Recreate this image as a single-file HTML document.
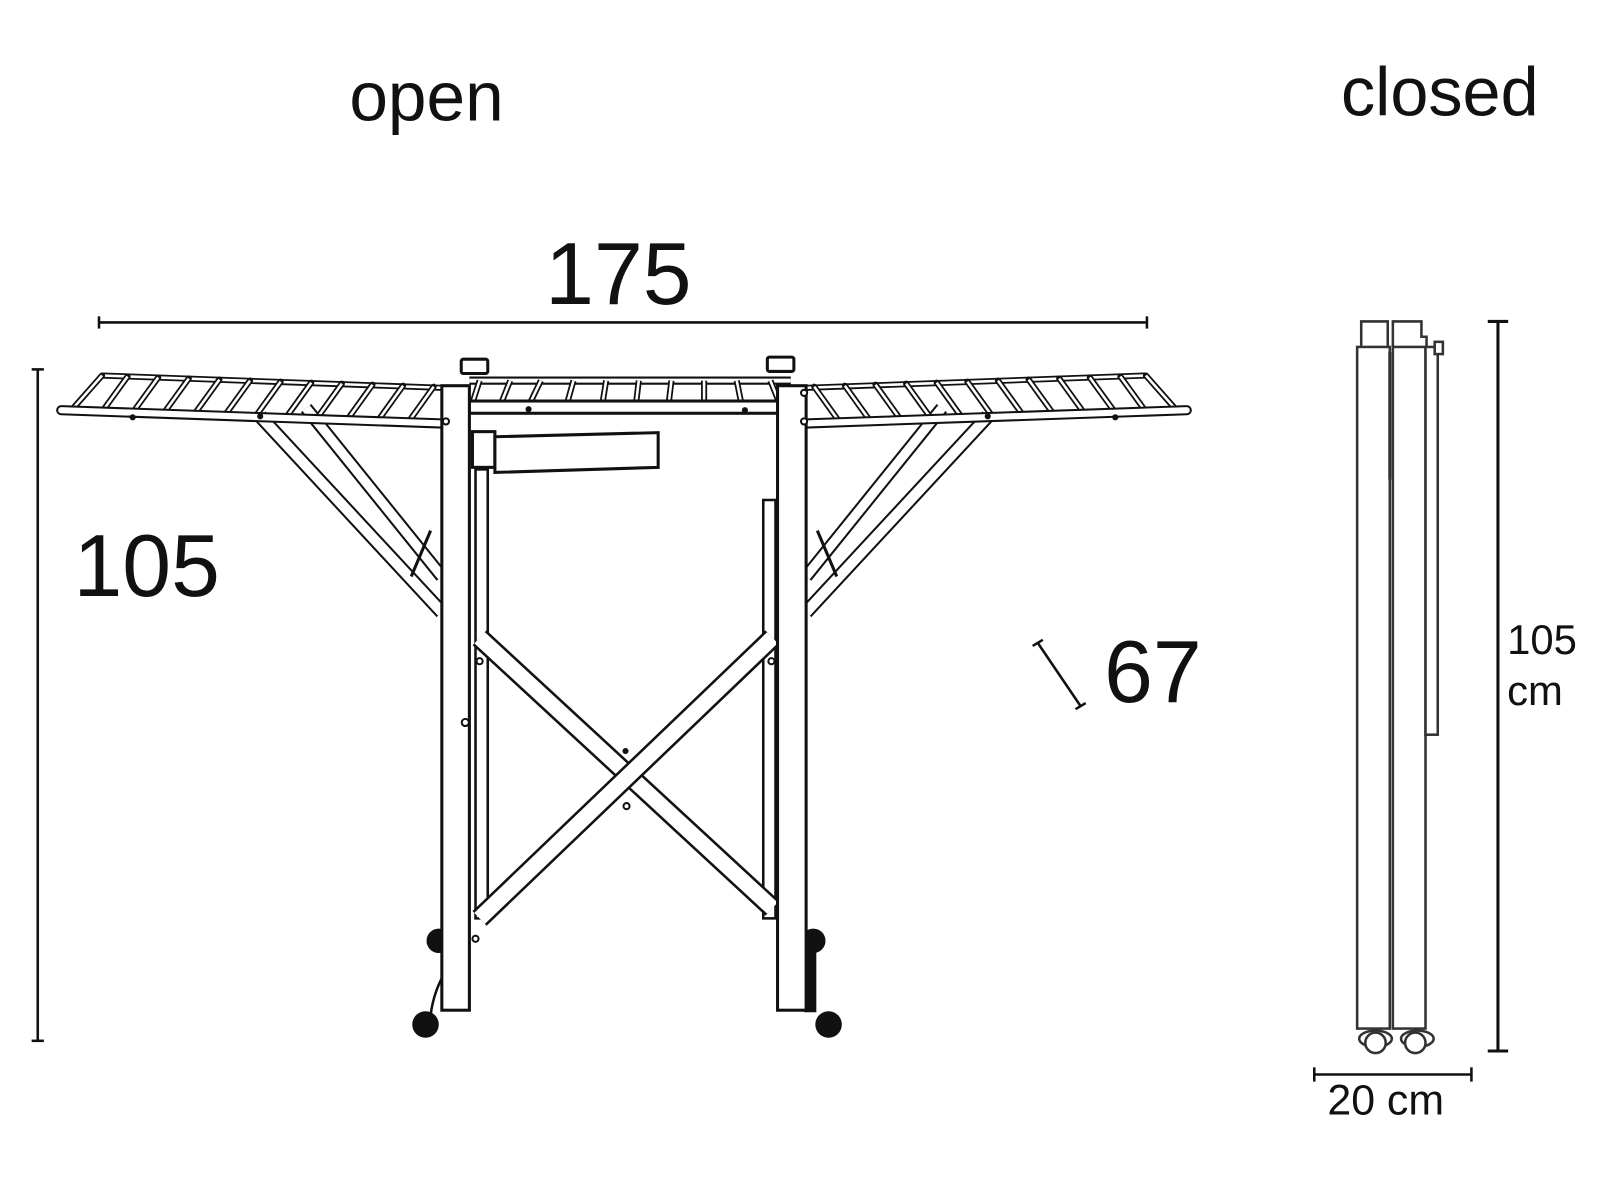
<!DOCTYPE html>
<html><head><meta charset="utf-8"><style>
html,body{margin:0;padding:0;background:#fff;width:1600px;height:1200px;overflow:hidden}
svg{display:block}
text{font-family:"Liberation Sans",sans-serif;fill:#111}
</style></head><body>
<svg width="1600" height="1200" viewBox="0 0 1568 1176" xmlns="http://www.w3.org/2000/svg">
<defs>
<g id="wing">
  <line x1="255" y1="408" x2="433" y2="600" stroke="#111" stroke-width="14"/>
  <line x1="255" y1="408" x2="433" y2="600" stroke="#fff" stroke-width="10"/>
  <line x1="300" y1="400" x2="433" y2="565" stroke="#111" stroke-width="13"/>
  <line x1="300" y1="400" x2="433" y2="565" stroke="#fff" stroke-width="9"/>
  <line x1="403" y1="565" x2="422" y2="520" stroke="#111" stroke-width="3"/>
  <line x1="100" y1="368" x2="432" y2="380" stroke="#111" stroke-width="6"/>
  <line x1="100" y1="368" x2="432" y2="380" stroke="#fff" stroke-width="2.5"/>
  <g stroke="#111" stroke-width="6" stroke-linecap="round">
    <line x1="70" y1="402" x2="100" y2="368"/>
    <line x1="100" y1="403.5" x2="125" y2="369"/><line x1="130" y1="404.5" x2="155" y2="370"/>
    <line x1="160" y1="405.6" x2="185" y2="371"/><line x1="190" y1="406.6" x2="215" y2="372"/>
    <line x1="220" y1="407.6" x2="245" y2="373"/><line x1="250" y1="408.7" x2="275" y2="374"/>
    <line x1="280" y1="409.7" x2="305" y2="375"/><line x1="310" y1="410.8" x2="335" y2="376"/>
    <line x1="340" y1="411.8" x2="365" y2="377"/><line x1="370" y1="412.8" x2="395" y2="378"/>
    <line x1="400" y1="413.9" x2="425" y2="379"/>
  </g>
  <g stroke="#fff" stroke-width="2.5">
    <line x1="70" y1="402" x2="100" y2="368"/>
    <line x1="100" y1="403.5" x2="125" y2="369"/><line x1="130" y1="404.5" x2="155" y2="370"/>
    <line x1="160" y1="405.6" x2="185" y2="371"/><line x1="190" y1="406.6" x2="215" y2="372"/>
    <line x1="220" y1="407.6" x2="245" y2="373"/><line x1="250" y1="408.7" x2="275" y2="374"/>
    <line x1="280" y1="409.7" x2="305" y2="375"/><line x1="310" y1="410.8" x2="335" y2="376"/>
    <line x1="340" y1="411.8" x2="365" y2="377"/><line x1="370" y1="412.8" x2="395" y2="378"/>
    <line x1="400" y1="413.9" x2="425" y2="379"/>
  </g>
  <line x1="60" y1="402" x2="433" y2="415" stroke="#111" stroke-width="10" stroke-linecap="round"/>
  <line x1="60" y1="402" x2="433" y2="415" stroke="#fff" stroke-width="6" stroke-linecap="round"/>
  <circle cx="130" cy="409" r="3" fill="#111"/><circle cx="255" cy="408" r="3" fill="#111"/>
</g>
</defs>

<text x="418" y="118" font-size="68" text-anchor="middle">open</text>
<text x="1411" y="113" font-size="67" text-anchor="middle">closed</text>

<text x="606" y="298" font-size="86" text-anchor="middle">175</text>
<g stroke="#111" stroke-width="2.5">
<line x1="97" y1="316" x2="1124" y2="316"/>
<line x1="97" y1="310" x2="97" y2="322"/><line x1="1124" y1="310" x2="1124" y2="322"/>
<line x1="37" y1="362" x2="37" y2="1020"/>
<line x1="31" y1="362" x2="43" y2="362"/><line x1="31" y1="1020" x2="43" y2="1020"/>
<line x1="1017" y1="630" x2="1059" y2="692"/>
<line x1="1012" y1="633" x2="1022" y2="627"/><line x1="1054" y1="695" x2="1064" y2="689"/>
<line x1="1468" y1="315" x2="1468" y2="1030" stroke-width="3"/>
<line x1="1458" y1="315" x2="1478" y2="315" stroke-width="3"/><line x1="1458" y1="1030" x2="1478" y2="1030" stroke-width="3"/>
<line x1="1288" y1="1053" x2="1442" y2="1053"/>
<line x1="1288" y1="1046" x2="1288" y2="1060"/><line x1="1442" y1="1046" x2="1442" y2="1060"/>
</g>
<text x="72" y="584" font-size="86">105</text>
<text x="1082" y="688" font-size="86">67</text>
<text x="1477" y="641" font-size="41">105</text>
<text x="1477" y="691" font-size="41">cm</text>
<text x="1358" y="1092" font-size="42" text-anchor="middle">20 cm</text>

<use href="#wing"/>
<use href="#wing" transform="translate(1223,0) scale(-1,1)"/>

<g stroke="#111" stroke-width="3" fill="#fff">
  <rect x="452" y="352" width="26" height="14" rx="2"/>
  <rect x="752" y="350" width="26" height="14" rx="2"/>
</g>
<line x1="460" y1="373" x2="775" y2="373" stroke="#111" stroke-width="8"/>
<line x1="460" y1="373" x2="775" y2="373" stroke="#fff" stroke-width="4"/>
<g stroke="#111" stroke-width="6">
<line x1="462" y1="398" x2="470" y2="373"/><line x1="490" y1="398" x2="500" y2="373"/>
<line x1="518" y1="398" x2="530" y2="373"/><line x1="555" y1="398" x2="562" y2="373"/>
<line x1="590" y1="398" x2="594" y2="373"/><line x1="623" y1="398" x2="626" y2="373"/>
<line x1="655" y1="398" x2="658" y2="373"/><line x1="690" y1="398" x2="690" y2="373"/>
<line x1="727" y1="398" x2="722" y2="373"/><line x1="765" y1="398" x2="755" y2="373"/>
</g>
<g stroke="#fff" stroke-width="2.5">
<line x1="462" y1="398" x2="470" y2="373"/><line x1="490" y1="398" x2="500" y2="373"/>
<line x1="518" y1="398" x2="530" y2="373"/><line x1="555" y1="398" x2="562" y2="373"/>
<line x1="590" y1="398" x2="594" y2="373"/><line x1="623" y1="398" x2="626" y2="373"/>
<line x1="655" y1="398" x2="658" y2="373"/><line x1="690" y1="398" x2="690" y2="373"/>
<line x1="727" y1="398" x2="722" y2="373"/><line x1="765" y1="398" x2="755" y2="373"/>
</g>
<rect x="460" y="393" width="310" height="12" fill="#fff" stroke="#111" stroke-width="3"/>
<circle cx="518" cy="401" r="3" fill="#111"/><circle cx="730" cy="402" r="3" fill="#111"/>

<g fill="#fff" stroke="#111" stroke-width="3">
<rect x="463" y="423" width="22" height="35"/>
<path d="M485 428 L645 424 L645 458 L485 463 Z"/>
</g>

<g fill="#fff" stroke="#111" stroke-width="2.5">
<rect x="466" y="460" width="12" height="440"/>
<rect x="748" y="490" width="12" height="410"/>
</g>

<line x1="470" y1="625" x2="757" y2="890" stroke="#111" stroke-width="20"/>
<line x1="470" y1="625" x2="757" y2="890" stroke="#fff" stroke-width="15"/>
<line x1="757" y1="625" x2="470" y2="900" stroke="#111" stroke-width="20"/>
<line x1="757" y1="625" x2="470" y2="900" stroke="#fff" stroke-width="15"/>
<circle cx="613" cy="736" r="3" fill="#111"/><circle cx="614" cy="790" r="3" fill="none" stroke="#111" stroke-width="2"/>

<g fill="#111">
<circle cx="430" cy="922" r="12"/><circle cx="417" cy="1004" r="13"/>
<circle cx="797" cy="922" r="12"/><circle cx="812" cy="1004" r="13"/>
<rect x="788" y="930" width="12" height="62"/>
</g>
<path d="M438 950 Q425 970 422 995" stroke="#111" stroke-width="2.5" fill="none"/>

<g fill="#fff" stroke="#111" stroke-width="3">
<rect x="433" y="378" width="27" height="612"/>
<rect x="762" y="378" width="28" height="612"/>
</g>
<g fill="#fff" stroke="#111" stroke-width="2">
<circle cx="437" cy="413" r="3"/><circle cx="456" cy="708" r="3.5"/><circle cx="466" cy="920" r="3"/>
<circle cx="788" cy="385" r="3"/><circle cx="788" cy="413" r="3"/>
<circle cx="470" cy="648" r="3"/><circle cx="756" cy="648" r="3"/>
</g>

<g fill="#fff" stroke="#333" stroke-width="2.5">
<path d="M1334 340 L1334 315 L1360 315 L1360 340"/>
<path d="M1365 340 L1365 315 L1393 315 L1393 330 L1398 330 L1398 340"/>
<rect x="1330" y="340" width="32" height="668"/>
<rect x="1365" y="340" width="32" height="668"/>
<rect x="1397" y="340" width="12" height="380"/>
<rect x="1406" y="335" width="8" height="12"/>
</g>
<line x1="1362" y1="345" x2="1362" y2="470" stroke="#333" stroke-width="3"/>
<g fill="#fff" stroke="#333" stroke-width="2.5">
<ellipse cx="1348" cy="1018" rx="16" ry="8"/>
<ellipse cx="1389" cy="1018" rx="16" ry="8"/>
<circle cx="1348" cy="1022" r="10"/>
<circle cx="1387" cy="1022" r="10"/>
</g>
</svg>
</body></html>
